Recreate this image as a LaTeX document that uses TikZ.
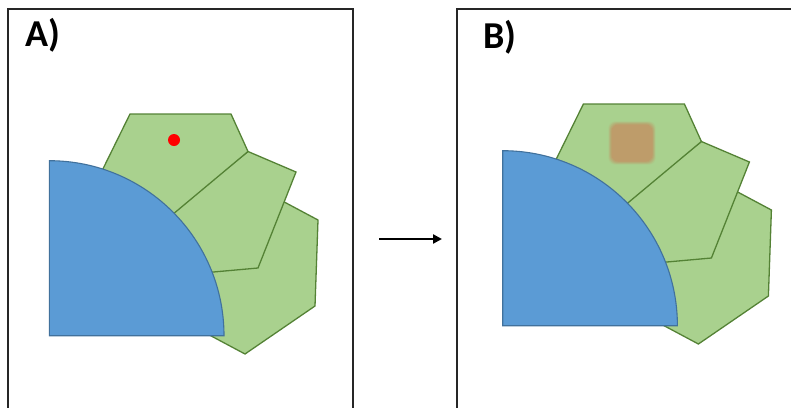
\documentclass[tikz,border=0pt]{standalone}
\usepackage{fontspec}
\newfontfamily\labelfont{Carlito}
\usetikzlibrary{arrows.meta}
\definecolor{cellfill}{RGB}{169,209,142}
\definecolor{celledge}{RGB}{84,130,53}
\definecolor{bluefill}{RGB}{91,155,213}
\definecolor{blueedge}{RGB}{65,113,156}
\definecolor{framecol}{RGB}{38,38,38}
\definecolor{browncol}{RGB}{190,156,106}
\tikzset{
  cell/.style={fill=cellfill, draw=celledge, line width=1.3pt, line join=miter},
  quarter/.style={fill=bluefill, draw=blueedge, line width=1.1pt},
  frame/.style={draw=framecol, line width=1.8pt},
  paneltitle/.style={font=\labelfont\bfseries\fontsize{38}{38}\selectfont, anchor=base west, inner sep=0pt},
}
\newcommand\cellcluster{%
  % bottom hexagon
  \filldraw[cell] (258,188) -- (318,220) -- (315,306) -- (245,354) -- (185,322) -- (195,260) -- cycle;
  % middle pentagon
  \filldraw[cell] (248,151.5) -- (296,172) -- (258,268) -- (180,275) -- (160,221.5) -- cycle;
  % top pentagon
  \filldraw[cell] (130,114) -- (231,114) -- (248,151.5) -- (160,225) -- (95,185) -- cycle;
  % blue quarter disc
  \filldraw[quarter] (49.3,335.7) -- (49.3,160.7) arc[start angle=90, end angle=0, x radius=174.7, y radius=-175] -- cycle;
}
\begin{document}
\begin{tikzpicture}[x=1pt, y=-1pt]
\useasboundingbox (0,0) rectangle (791,407);
% frames
\draw[frame] (8.3,420) -- (8.3,9) -- (353.3,9) -- (353.3,420);
\draw[frame] (457.3,420) -- (457.3,9) -- (800,9);
% titles
\node[paneltitle] (ta) at (25,46.7) {A)};
\node[paneltitle] (tb) at (483,48.5) {B)};
% panel A
\cellcluster
\fill[red] (174,140) circle[radius=6];
% panel B
\begin{scope}[shift={(453.4,-10)}]
\cellcluster
\end{scope}
% blurred brown square
\foreach \g/\o in {4/0.15, 3/0.25, 2/0.35, 1/0.5, 0/1} {
  \fill[browncol, opacity=\o, rounded corners=7pt] (611.5-\g*0.8,124.5-\g*0.8) rectangle (652.5+\g*0.8,161.5+\g*0.8);
}
% arrow
\coordinate (arrS) at (379.3,239);
\coordinate (arrE) at (442,239);
\draw[line width=2.4pt, -{Triangle[length=9pt, width=9pt]}] (arrS) -- (arrE);
\end{tikzpicture}
\end{document}
